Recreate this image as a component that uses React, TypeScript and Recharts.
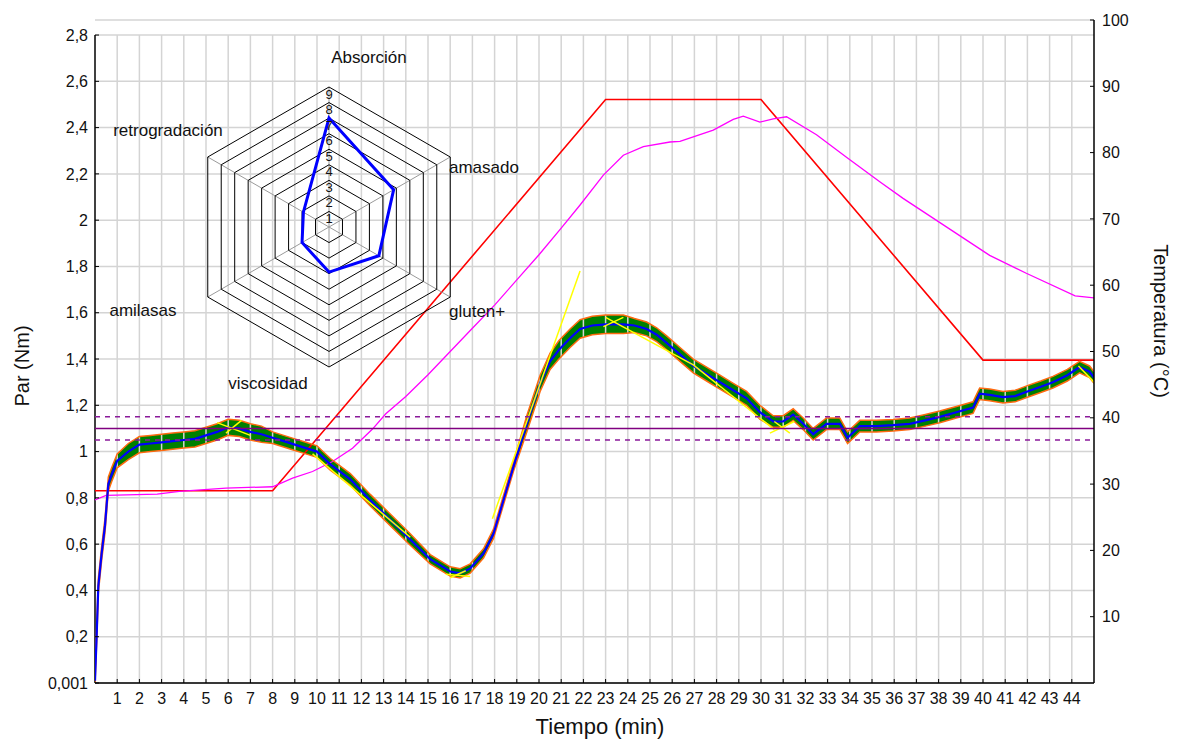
import {
  ComposedChart,
  Line,
  Area,
  XAxis,
  YAxis,
  CartesianGrid,
  ReferenceLine,
  RadarChart,
  Radar,
  PolarGrid,
  PolarAngleAxis,
  PolarRadiusAxis,
} from 'recharts'

const FONT = '"Liberation Sans", Arial, sans-serif'

// axis ticks
const minuteTicks = [
  1, 2, 3, 4, 5, 6, 7, 8, 9, 10, 11, 12, 13, 14, 15, 16, 17, 18, 19, 20, 21, 22,
  23, 24, 25, 26, 27, 28, 29, 30, 31, 32, 33, 34, 35, 36, 37, 38, 39, 40, 41, 42, 43, 44,
]
const torqueTicks = [0, 0.2, 0.4, 0.6, 0.8, 1, 1.2, 1.4, 1.6, 1.8, 2, 2.2, 2.4, 2.6, 2.8]
const torqueTickLabels = [
  '0,001', '0,2', '0,4', '0,6', '0,8', '1', '1,2', '1,4', '1,6', '1,8', '2', '2,2', '2,4', '2,6', '2,8',
]
const tempTicks = [10, 20, 30, 40, 50, 60, 70, 80, 90, 100]

// torque trace (Nm): mean curve and width of the noise envelope
const torqueTime = [
  0, 0.08, 0.15, 0.3, 0.45, 0.6, 0.75, 1.0, 1.5, 2.0, 2.5, 3.0, 3.5, 4.0, 4.5, 5.0,
  5.5, 6.0, 6.5, 7.0, 7.5, 8.0, 8.5, 9.0, 9.5, 10.0, 10.6, 11.5, 12.4, 13.3, 14.2, 15.1,
  16.0, 16.45, 16.9, 17.5, 17.95, 18.4, 18.85, 19.45, 20.05, 20.5, 20.9, 21.4, 21.85, 22.4,
  23.0, 23.8, 24.3, 24.85, 25.3, 25.75, 26.35, 26.95, 27.55, 28.15, 28.75, 29.35, 29.95,
  30.55, 31.0, 31.45, 31.9, 32.35, 32.95, 33.55, 33.9, 34.45, 35.2, 35.95, 36.7, 37.4,
  38.05, 38.8, 39.55, 39.85, 40.3, 40.9, 41.45, 42.0, 42.6, 43.15, 43.8, 44.35, 44.8, 45,
]
const torqueMean = [
  0.01, 0.22, 0.42, 0.56, 0.68, 0.86, 0.9, 0.96, 1.0, 1.03, 1.035, 1.04, 1.045, 1.05, 1.055, 1.07,
  1.085, 1.105, 1.1, 1.085, 1.075, 1.06, 1.045, 1.03, 1.015, 1.0, 0.945, 0.88, 0.79, 0.705, 0.62, 0.535,
  0.482, 0.474, 0.495, 0.56, 0.645, 0.79, 0.935, 1.12, 1.295, 1.39, 1.44, 1.49, 1.53, 1.545,
  1.55, 1.55, 1.545, 1.53, 1.505, 1.47, 1.42, 1.37, 1.335, 1.3, 1.265, 1.23, 1.17,
  1.13, 1.13, 1.16, 1.12, 1.075, 1.12, 1.12, 1.06, 1.11, 1.11, 1.114, 1.12, 1.135,
  1.15, 1.17, 1.19, 1.25, 1.245, 1.235, 1.24, 1.26, 1.28, 1.3, 1.33, 1.365, 1.345, 1.32,
]
const torqueSpread = [
  0.03, 0.03, 0.03, 0.03, 0.03, 0.03, 0.03, 0.03,
  0.035, 0.035, 0.035, 0.035, 0.035, 0.035, 0.035, 0.035, 0.035, 0.035, 0.035, 0.035, 0.035,
  0.025, 0.025, 0.025, 0.025, 0.025, 0.025, 0.025, 0.025, 0.025, 0.025,
  0.02, 0.02, 0.02, 0.02, 0.02, 0.02, 0.02, 0.02,
  0.035, 0.035, 0.035, 0.04, 0.04, 0.04, 0.04, 0.04, 0.04,
  0.03, 0.03, 0.03, 0.03, 0.03, 0.03, 0.03, 0.03, 0.03, 0.03, 0.03,
  0.025, 0.025, 0.025, 0.025, 0.025, 0.025, 0.025, 0.025, 0.025, 0.025, 0.025, 0.025, 0.025, 0.025,
  0.025, 0.025, 0.025, 0.025, 0.025, 0.025, 0.025, 0.025, 0.025, 0.025, 0.025, 0.025, 0.025,
]

// straight fits over parts of the torque curve: [minute, Nm] pairs
const fitSegments: [number, number][][] = [
  [[5.5, 1.125], [7.0, 1.07]],
  [[5.9, 1.08], [6.6, 1.135]],
  [[9.8, 0.99], [14.2, 0.63]],
  [[15.8, 0.47], [16.9, 0.46]],
  [[16.0, 0.455], [16.7, 0.485]],
  [[17.9, 0.71], [21.85, 1.78]],
  [[22.9, 1.54], [23.8, 1.58]],
  [[23.0, 1.58], [26.95, 1.375], [30.6, 1.095]],
  [[30.4, 1.08], [31.5, 1.13]],
  [[30.6, 1.13], [31.3, 1.08]],
  [[44.3, 1.37], [45, 1.3]],
]

// target consistency and its tolerance
const torqueTarget = 1.1
const torqueTolerance = [1.05, 1.15]

// programmed temperature (°C)
const programTime = [0, 8, 23, 30, 40, 45]
const programTemp = [29, 29, 88, 88, 48.7, 48.7]

// measured dough temperature (°C)
const doughTime = [
  0, 0.5, 2.8, 3.8, 5.9, 8, 8.9, 9.8, 10.7, 11.6, 12.5, 13.1, 14, 15, 16, 17, 18, 19, 20,
  21, 21.85, 22.9, 23.8, 24.7, 25.9, 26.35, 27.85, 28.75, 29.2, 29.95, 30.55, 31.15, 32.5,
  33.85, 35.35, 36.4, 38.35, 40.3, 41.95, 44.15, 45,
]
const doughTemp = [
  27.6, 28.3, 28.5, 28.9, 29.4, 29.6, 30.9, 31.9, 33.4, 35.4, 38.3, 40.6, 43.2, 46.5, 50, 53.5, 57, 60.8, 64.6,
  68.6, 72.1, 76.6, 79.6, 80.9, 81.6, 81.7, 83.4, 85.0, 85.5, 84.6, 85.1, 85.4, 82.7,
  79.3, 75.6, 73.1, 68.8, 64.5, 61.8, 58.4, 58.1,
]

// quality profile
const profileAxes = ['Absorción', 'amasado', 'gluten+', 'viscosidad', 'amilasas', 'retrogradación']
const profileScores = [7, 4.8, 3.7, 2.9, 2.0, 1.9]

const torqueRows = torqueTime.map((t, i) => {
  const lo = Math.max(0, torqueMean[i] - torqueSpread[i])
  const hi = torqueMean[i] + torqueSpread[i]
  return { t, mean: torqueMean[i], lo, hi, band: [lo, hi] }
})
const programRows = programTime.map((t, i) => ({ t, v: programTemp[i] }))
const doughRows = doughTime.map((t, i) => ({ t, v: doughTemp[i] }))
const fitRows = fitSegments.map((seg) => seg.map(([t, v]) => ({ t, v })))
const profileRows = profileAxes.map((axis, i) => ({ axis, score: profileScores[i] }))

// radar placement inside its own svg
const RADAR_W = 460
const RADAR_H = 420
const RCX = 230
const RCY = 210

// where each profile name sits relative to the radar centre
const RADAR_LABEL_POS: Record<string, { dx: number; dy: number; anchor: 'start' | 'middle' | 'end' }> = {
  'Absorción': { dx: 40, dy: -170, anchor: 'middle' },
  amasado: { dx: 120, dy: -60, anchor: 'start' },
  'gluten+': { dx: 120, dy: 84, anchor: 'start' },
  viscosidad: { dx: -61, dy: 156, anchor: 'middle' },
  amilasas: { dx: -186, dy: 83, anchor: 'middle' },
  'retrogradación': { dx: -161, dy: -97, anchor: 'middle' },
}

const tickStyle = { fontSize: 16, fill: '#111', fontFamily: FONT }
const gridColor = '#d4d4d4'

function ProfileLabel(props: any) {
  const name = props.payload?.value as string
  const pos = RADAR_LABEL_POS[name]
  if (!pos) return null
  return (
    <text
      x={RCX + pos.dx}
      y={RCY + pos.dy}
      textAnchor={pos.anchor}
      dominantBaseline="central"
      fontSize={17}
      fontFamily={FONT}
      fill="#111"
    >
      {name}
    </text>
  )
}

function RingLabel(props: any) {
  const v = props.payload?.value
  if (!v) return null
  return (
    <text
      x={props.x}
      y={props.y + 7}
      textAnchor="middle"
      dominantBaseline="central"
      fontSize={13}
      fontFamily={FONT}
      fill="#111"
    >
      {v}
    </text>
  )
}

function ProfileRadar() {
  return (
    <RadarChart
      width={RADAR_W}
      height={RADAR_H}
      data={profileRows}
      cx={RCX}
      cy={RCY}
      outerRadius={140}
      style={{ overflow: 'visible' }}
    >
      <PolarGrid gridType="polygon" polarRadius={[0]} stroke="#9a9a9a" />
      <PolarGrid gridType="polygon" radialLines={false} stroke="#000" />
      <PolarAngleAxis dataKey="axis" tick={<ProfileLabel />} tickLine={false} axisLine={false} />
      <PolarRadiusAxis
        angle={90}
        domain={[0, 9]}
        tickCount={10}
        axisLine={false}
        tickLine={false}
        tick={<RingLabel />}
      />
      <Radar
        dataKey="score"
        stroke="#0000ff"
        strokeWidth={3}
        fill="none"
        fillOpacity={0}
        dot={false}
        isAnimationActive={false}
      />
    </RadarChart>
  )
}

export default function App() {
  return (
    <div style={{ position: 'absolute', left: 0, top: 0, width: 1180, height: 742, background: '#fff' }}>
      <ComposedChart
        width={1180}
        height={742}
        data={torqueRows}
        margin={{ top: 20, right: 0, bottom: 0, left: 0 }}
      >
        <CartesianGrid yAxisId="left" vertical={false} stroke={gridColor} strokeWidth={1.5} />
        {minuteTicks.map((m) => (
          <ReferenceLine
            key={`v${m}`}
            yAxisId="left"
            segment={[{ x: m, y: 0 }, { x: m, y: 2.8 }]}
            stroke={gridColor}
            strokeWidth={1.5}
          />
        ))}
        <XAxis
          type="number"
          dataKey="t"
          domain={[0, 45]}
          ticks={minuteTicks}
          interval={0}
          allowDataOverflow
          height={59}
          tickSize={-4}
          tickMargin={14}
          tick={tickStyle}
          axisLine={{ stroke: '#000', strokeWidth: 1.5 }}
          tickLine={{ stroke: '#000' }}
        />
        <YAxis
          yAxisId="left"
          width={95}
          domain={[0, 2.865]}
          ticks={torqueTicks}
          interval={0}
          allowDataOverflow
          axisLine={false}
          tickSize={-4}
          tickMargin={11}
          tickFormatter={(_v: number, i: number) => torqueTickLabels[i]}
          tick={tickStyle}
          tickLine={{ stroke: '#000' }}
        />
        <YAxis
          yAxisId="right"
          orientation="right"
          width={86}
          domain={[0, 100]}
          ticks={tempTicks}
          interval={0}
          allowDataOverflow
          tickSize={-4}
          tickMargin={12}
          tick={tickStyle}
          axisLine={{ stroke: '#000', strokeWidth: 1.5 }}
          tickLine={{ stroke: '#000' }}
        />
        <ReferenceLine
          yAxisId="left"
          segment={[{ x: 0, y: 0 }, { x: 0, y: 2.8 }]}
          stroke="#000"
          strokeWidth={1.5}
        />

        <Line
          yAxisId="right"
          data={programRows}
          dataKey="v"
          type="linear"
          stroke="#ff0000"
          strokeWidth={1.6}
          dot={false}
          isAnimationActive={false}
        />
        <Line
          yAxisId="right"
          data={doughRows}
          dataKey="v"
          type="linear"
          stroke="#ff00ff"
          strokeWidth={1.3}
          dot={false}
          isAnimationActive={false}
        />

        <Area
          yAxisId="left"
          dataKey="band"
          type="linear"
          fill="#008000"
          fillOpacity={1}
          stroke="none"
          isAnimationActive={false}
        />
        <Line yAxisId="left" dataKey="hi" type="linear" stroke="#ff6a10" strokeWidth={1.5} dot={false} isAnimationActive={false} />
        <Line yAxisId="left" dataKey="lo" type="linear" stroke="#ff6a10" strokeWidth={1.5} dot={false} isAnimationActive={false} />
        <Line yAxisId="left" dataKey="mean" type="linear" stroke="#0000ff" strokeWidth={2.2} dot={false} isAnimationActive={false} />
        {fitRows.map((rows, i) => (
          <Line
            key={`fit${i}`}
            yAxisId="left"
            data={rows}
            dataKey="v"
            type="linear"
            stroke="#ffff00"
            strokeWidth={1.5}
            dot={false}
            isAnimationActive={false}
          />
        ))}

        <ReferenceLine yAxisId="left" y={torqueTarget} stroke="#800080" strokeWidth={1.5} />
        {torqueTolerance.map((y) => (
          <ReferenceLine key={`tol${y}`} yAxisId="left" y={y} stroke="#8a1a9a" strokeWidth={1.5} strokeDasharray="5 5" />
        ))}
      </ComposedChart>

      <div style={{ position: 'absolute', left: 329 - RCX, top: 227 - RCY }}>
        <ProfileRadar />
      </div>

      <div
        style={{
          position: 'absolute',
          left: 22,
          top: 366,
          transform: 'translate(-50%, -50%) rotate(-90deg)',
          fontFamily: FONT,
          fontSize: 20,
          color: '#111',
          whiteSpace: 'nowrap',
        }}
      >
        Par (Nm)
      </div>
      <div
        style={{
          position: 'absolute',
          left: 1160,
          top: 321,
          transform: 'translate(-50%, -50%) rotate(90deg)',
          fontFamily: FONT,
          fontSize: 20,
          color: '#111',
          whiteSpace: 'nowrap',
        }}
      >
        Temperatura (°C)
      </div>
      <div
        style={{
          position: 'absolute',
          left: 600,
          top: 727,
          transform: 'translate(-50%, -50%)',
          fontFamily: FONT,
          fontSize: 22,
          color: '#111',
          whiteSpace: 'nowrap',
        }}
      >
        Tiempo (min)
      </div>
    </div>
  )
}
